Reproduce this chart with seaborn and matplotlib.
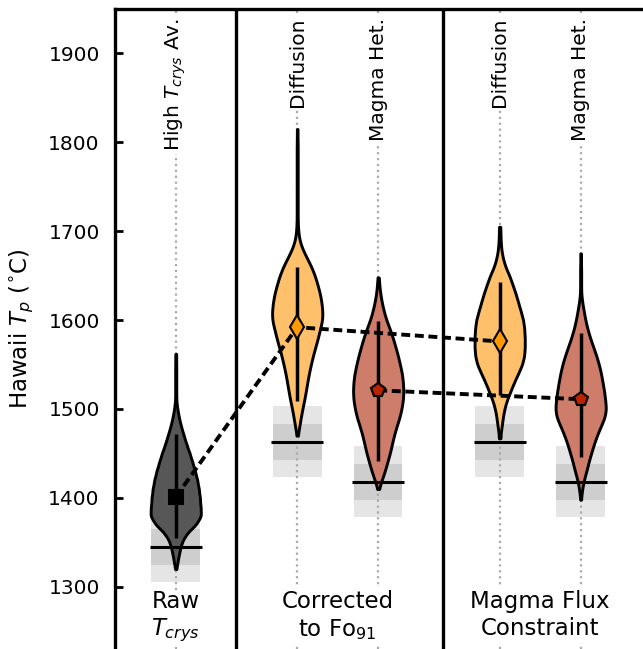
import numpy as np
import matplotlib
matplotlib.use("Agg")
import matplotlib.pyplot as plt
from matplotlib.patches import Rectangle
import seaborn as sns

sns.set_style("ticks")
plt.rcParams["font.family"] = ["DejaVu Sans"]
plt.rcParams["mathtext.fontset"] = "dejavusans"
for k in ["text.color", "axes.labelcolor", "xtick.color", "ytick.color", "axes.edgecolor"]:
    plt.rcParams[k] = "black"

# ---------------- data ----------------
positions = [0.0, 1.5, 2.5, 4.0, 5.0]
top_labels = ["High $T_{crys}$ Av.", "Diffusion", "Magma Het.", "Diffusion", "Magma Het."]
group_labels = ["Raw\n$T_{crys}$", "Corrected\nto Fo$_{91}$", "Magma Flux\nConstraint"]
group_label_x = [0.0, 2.0, 4.5]
separators = [0.75, 3.3]

# sampled temperature distributions (value, count) for each violin
raw_T = [1320, 1330, 1340, 1350, 1360, 1370, 1380, 1390, 1400, 1410, 1420, 1430, 1440,
         1450, 1460, 1470, 1480, 1490, 1500, 1510, 1520, 1530, 1540, 1550, 1562]
raw_n = [1, 4, 7, 11, 20, 38, 48, 46, 45, 43, 40, 36, 31, 26, 20, 15, 10, 6, 3, 1, 1, 1, 1, 1, 1]

diffA_T = [1470, 1480, 1490, 1500, 1510, 1520, 1530, 1540, 1550, 1560, 1570, 1580, 1590,
           1600, 1610, 1620, 1630, 1640, 1650, 1660, 1670, 1680, 1690, 1700, 1710, 1720,
           1730, 1740, 1750, 1760, 1770, 1780, 1790, 1800, 1815]
diffA_n = [1, 4, 7, 10, 14, 17, 20, 23, 27, 31, 36, 41, 45, 50, 50, 48, 45, 40, 35, 28, 19,
           10, 4, 2, 1, 1, 1, 1, 1, 1, 1, 1, 1, 1, 1]

hetA_T = [1410, 1420, 1430, 1440, 1450, 1460, 1470, 1480, 1490, 1500, 1510, 1520, 1530,
          1540, 1550, 1560, 1570, 1580, 1590, 1600, 1610, 1620, 1630, 1640, 1648]
hetA_n = [1, 7, 13, 18, 23, 27, 31, 36, 42, 46, 49, 50, 49, 47, 43, 39, 34, 29, 23, 16, 11,
          7, 4, 2, 1]

diffB_T = [1467, 1480, 1490, 1500, 1510, 1520, 1530, 1540, 1550, 1560, 1570, 1580, 1590,
           1600, 1610, 1620, 1630, 1640, 1650, 1660, 1670, 1680, 1690, 1700, 1705]
diffB_n = [2, 4, 6, 9, 14, 21, 28, 36, 44, 48, 49, 49, 48, 46, 41, 36, 31, 25, 19, 11, 6,
           3, 2, 1, 1]

hetB_T = [1398, 1410, 1420, 1430, 1440, 1450, 1460, 1470, 1480, 1490, 1500, 1510, 1520,
          1530, 1540, 1550, 1560, 1570, 1580, 1590, 1600, 1610, 1620, 1630, 1640, 1650,
          1660, 1675]
hetB_n = [1, 3, 6, 11, 15, 20, 25, 31, 38, 46, 49, 47, 45, 42, 39, 35, 30, 24, 18, 13, 9,
          6, 3, 1, 1, 1, 1, 1]

means = [1401, 1592, 1521, 1576, 1511]
err_low = [1355, 1509, 1442, 1516, 1446]
err_high = [1472, 1660, 1599, 1643, 1585]
ref_T = [1345, 1463, 1418, 1463, 1418]
ref_1sig = 20
ref_2sig = 40

violin_colors = ["#575757", "#fec06a", "#cd7d6a", "#fec06a", "#cd7d6a"]
marker_styles = ["s", "d", "p", "d", "p"]
marker_colors = ["black", "#ff9a00", "#bb2200", "#ff9a00", "#bb2200"]
marker_sizes = [10, 12, 10.5, 12, 10.5]

dist_T = [raw_T, diffA_T, hetA_T, diffB_T, hetB_T]
dist_n = [raw_n, diffA_n, hetA_n, diffB_n, hetB_n]

# ---------------- figure ----------------
fig = plt.figure(figsize=(6.43, 6.49), dpi=100)
ax = fig.add_axes([115 / 643, 0.0, 1 - 115 / 643, 1 - 9 / 649])

for pos in positions:
    ax.axvline(pos, color="#aaaaaa", ls=":", lw=1.6, zorder=0.8)

for pos, ref in zip(positions, ref_T):
    ax.add_patch(Rectangle((pos - 0.3, ref - ref_2sig), 0.6, 2 * ref_2sig,
                           fc="#e5e5e5", ec="none", zorder=0.5))
    ax.add_patch(Rectangle((pos - 0.3, ref - ref_1sig), 0.6, 2 * ref_1sig,
                           fc="#cecece", ec="none", zorder=0.6))

for pos, T, n, c in zip(positions, dist_T, dist_n, violin_colors):
    samples = np.repeat(np.array(T, dtype=float), n)
    sns.violinplot(x=np.full(samples.size, pos), y=samples, native_scale=True,
                   orient="x", color=c, saturation=1, inner=None, cut=0,
                   width=0.62, density_norm="width", bw_adjust=0.5,
                   linewidth=2.1, linecolor="black", ax=ax, zorder=2)

for pos, ref in zip(positions, ref_T):
    ax.hlines(ref, pos - 0.32, pos + 0.32, color="black", lw=2.2, zorder=2.5)

for s in separators:
    ax.axvline(s, color="black", lw=2.4, zorder=2.6)

ax.vlines(positions, err_low, err_high, color="black", lw=2.5, zorder=3)

dash = (0, (2.3, 1.2))
ax.plot([positions[0], positions[1], positions[3]], [means[0], means[1], means[3]],
        color="black", ls=dash, lw=2.8, zorder=4)
ax.plot([positions[2], positions[4]], [means[2], means[4]],
        color="black", ls=dash, lw=2.8, zorder=4)

for pos, m, mk, mc, ms in zip(positions, means, marker_styles, marker_colors, marker_sizes):
    ax.plot([pos], [m], marker=mk, ms=ms, mfc=mc, mec="black", mew=1.5,
            ls="none", zorder=5)

for pos, lab in zip(positions, top_labels):
    ax.text(pos, 1940, lab, rotation=90, ha="center", va="top", fontsize=14.5,
            color="black", bbox=dict(fc="white", ec="none", pad=2), zorder=6)

for x, lab in zip(group_label_x, group_labels):
    ax.text(x, 1296, lab, ha="center", va="top", fontsize=16.5, multialignment="center",
            color="black", bbox=dict(fc="white", ec="none", pad=2), zorder=6)

ax.set_xlim(-0.75, 5.77)
ax.set_ylim(1230, 1950)
ax.set_xticks([])
ax.set_xlabel("")
ax.set_yticks([1300, 1400, 1500, 1600, 1700, 1800, 1900])
ax.tick_params(axis="y", direction="in", length=6, width=2, labelsize=14.5, pad=11,
               colors="black")
for side in ["right", "bottom"]:
    ax.spines[side].set_visible(False)
for side in ["left", "top"]:
    ax.spines[side].set_linewidth(2.4)
    ax.spines[side].set_color("black")
ax.set_ylabel("Hawaii $T_p$ ($^{\\circ}$C)", fontsize=16.5, color="black")
ax.yaxis.set_label_coords(-0.15, 0.5)

fig.savefig("out.png", dpi=100)
